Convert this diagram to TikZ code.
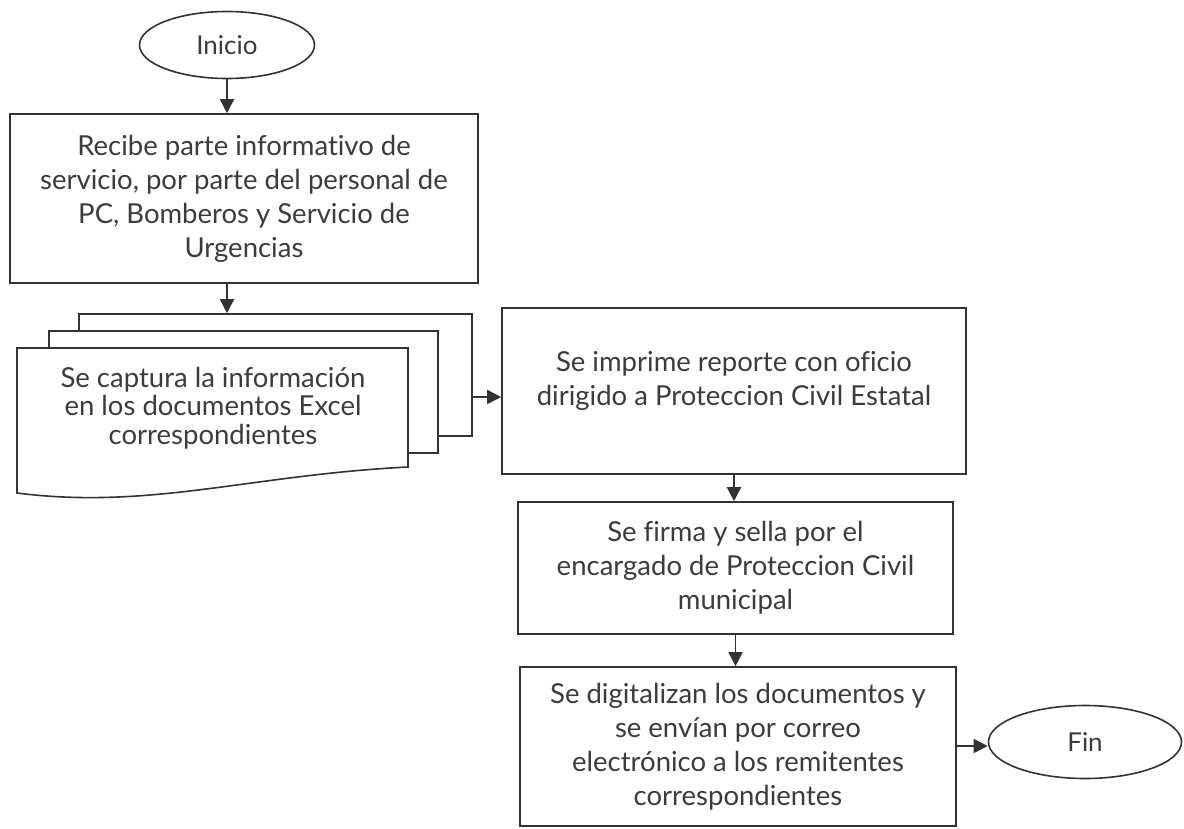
\documentclass[tikz,border=0pt]{standalone}
\usepackage{fontspec}
\setmainfont[Ligatures={NoCommon}]{Lato}
\usetikzlibrary{shapes.geometric,arrows.meta}
\definecolor{ink}{HTML}{333333}
\definecolor{txt}{HTML}{3C3C3C}
\begin{document}
\begin{tikzpicture}[x=1pt,y=-1pt,
 box/.style={draw=ink,line width=1.6pt,fill=white,inner sep=0pt,align=center,font=\fontsize{27.5}{34}\selectfont,text=txt},
 label/.style={inner sep=0pt,align=center,text=txt,font=\fontsize{27.5}{34}\selectfont},
 term/.style={ellipse,draw=ink,line width=1.6pt,fill=white,inner sep=0pt,font=\fontsize{26}{34}\selectfont,text=txt},
 arr/.style={draw=ink,line width=1.6pt,-{Triangle[length=14pt,width=14pt]}}]
\useasboundingbox (0,0) rectangle (1184,828);
\node[term,minimum width=175pt,minimum height=67pt] (inicio) at (227,45) {Inicio};
\node[box,minimum width=468pt,minimum height=169pt] (b1) at (244,198.5) {Recibe parte informativo de\\servicio, por parte del personal de\\PC, Bomberos y Servicio de\\Urgencias};
% document stack
\node[box,minimum width=393pt,minimum height=122pt] (sheet3) at (275.5,375) {};
\node[box,minimum width=389pt,minimum height=122pt] (sheet2) at (243.5,392) {};
\draw[draw=ink,line width=1.6pt,fill=white] (17,348) -- (408,348) -- (408,467) .. controls (250,475) and (150,510) .. (17,493) -- cycle;
\node[label,font=\fontsize{27.5}{28.5}\selectfont] (doc) at (213,408) {Se captura la información\\en los documentos Excel\\correspondientes};
\node[box,minimum width=464pt,minimum height=166pt] (b2) at (734,391) {};
\node[label] (b2t) at (734,381) {Se imprime reporte con oficio\\dirigido a Proteccion Civil Estatal};
\node[box,minimum width=435pt,minimum height=132pt] (b3) at (735.5,568) {Se firma y sella por el\\encargado de Proteccion Civil\\municipal};
\node[box,minimum width=436pt,minimum height=159pt] (b4) at (738,746.5) {Se digitalizan los documentos y\\se envían por correo\\electrónico a los remitentes\\correspondientes};
\node[term,minimum width=193pt,minimum height=73pt] (fin) at (1085,742) {Fin};
% connectors
\draw[arr] (inicio.south) -- (inicio.south |- b1.north);
\draw[arr] (inicio.south |- b1.south) -- (inicio.south |- sheet3.north);
\draw[arr] (sheet3.east |- 0,397) -- (b2.west |- 0,397);
\draw[arr] (b2.south) -- (b2.south |- b3.north);
\draw[arr] (b3.south) -- (b3.south |- b4.north);
\draw[arr] (b4.east |- 0,746) -- (fin.west |- 0,746);
\end{tikzpicture}
\end{document}
